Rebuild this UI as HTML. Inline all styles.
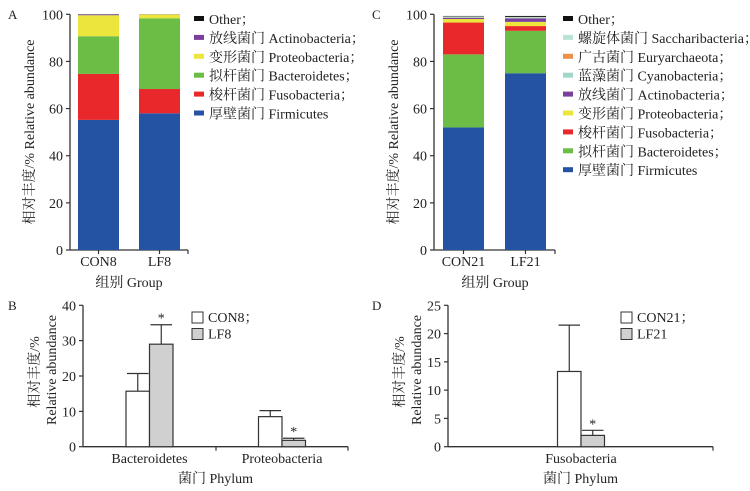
<!DOCTYPE html>
<html><head><meta charset="utf-8"><style>
body{margin:0;background:#fff;}
svg{display:block;font-family:"Liberation Serif","Noto Serif CJK SC",serif;}
</style></head><body>
<svg id="fig" width="750" height="491" viewBox="0 0 750 491" xmlns="http://www.w3.org/2000/svg"></svg>
<script>
// Panel A data
const groupsA = ["CON8","LF8"];
const phylaA = ["厚壁菌门 Firmicutes","梭杆菌门 Fusobacteria；","拟杆菌门 Bacteroidetes；","变形菌门 Proteobacteria；","放线菌门 Actinobacteria；","Other；"];
const colorsA = ["#2453a3","#e8282a","#6bbd45","#ece53c","#7a3f9d","#111111"];
const valuesA_CON8 = [55.2,19.5,16.0,8.9,0.3,0.1];
const valuesA_LF8 = [58.0,10.3,30.0,1.6,0.05,0.05];
// Panel C data
const groupsC = ["CON21","LF21"];
const phylaC = ["厚壁菌门 Firmicutes","拟杆菌门 Bacteroidetes；","梭杆菌门 Fusobacteria；","变形菌门 Proteobacteria；","放线菌门 Actinobacteria；","蓝藻菌门 Cyanobacteria；","广古菌门 Euryarchaeota；","螺旋体菌门 Saccharibacteria；","Other；"];
const colorsC = ["#2453a3","#6bbd45","#e8282a","#ece53c","#7a3f9d","#9fd8c8","#f0904a","#b9e3d6","#111111"];
const valuesC_CON21 = [52.0,31.0,13.5,1.5,0.5,0.3,0.1,0.2,0.2];
const valuesC_LF21 = [75.0,18.0,2.0,1.8,1.5,0.3,0.1,0.2,0.4];
// Panel B data
const catsB = ["Bacteroidetes","Proteobacteria"];
const meanB_CON8 = [15.7,8.5];
const errB_CON8 = [5.0,1.7];
const meanB_LF8 = [29.0,1.8];
const errB_LF8 = [5.5,0.6];
const sigB_LF8 = [true,true];
const ticksB = [0,10,20,30,40];
// Panel D data
const catsD = ["Fusobacteria"];
const meanD_CON21 = [13.3];
const errD_CON21 = [8.2];
const meanD_LF21 = [2.0];
const errD_LF21 = [0.9];
const sigD_LF21 = [true];
const ticksD = [0,5,10,15,20,25];
const ticksStack = [0,20,40,60,80,100];

const svg = document.getElementById('fig');
const NS = "http://www.w3.org/2000/svg";
function mk(tag, attrs, parent, text){
  const e = document.createElementNS(NS, tag);
  for (const k in attrs) e.setAttribute(k, attrs[k]);
  if (text !== undefined) e.textContent = text;
  (parent||svg).appendChild(e);
  return e;
}
function grp(name){
  const g = mk('g', {});
  
  
  return g;
}
function txt(g, x, y, s, size, anchor, name, extra){
  const t = mk('text', Object.assign({x:x, y:y, 'font-size':size, 'text-anchor':anchor||'start', fill:'#222'}, extra||{}), g, s);
  
  
  return t;
}
function yAxis(g, x0, yBase, yTop, ticks, maxV, xEnd, name){
  const sc = v => yBase - v/maxV*(yBase-yTop);
  const ax = mk('line',{x1:x0,y1:yTop,x2:x0,y2:yBase,stroke:'#333','stroke-width':1.3}, g);
  
  
  const xa = mk('line',{x1:x0,y1:yBase,x2:xEnd,y2:yBase,stroke:'#333','stroke-width':1.3}, g);
  
  
  mk('line',{x1:xEnd,y1:yBase,x2:xEnd,y2:yBase+4,stroke:'#333','stroke-width':1.2}, g);
  ticks.forEach(t=>{
    mk('line',{x1:x0-4,y1:sc(t),x2:x0,y2:sc(t),stroke:'#333','stroke-width':1.2}, g);
    txt(g, x0-7, sc(t)+5, String(t), 14, 'end', name+'-y-tick-label');
  });
  return sc;
}

function stacked(name, letter, lx, x0, xEnd, barX, barW, groups, series, colors, phyla, legX, ttlCX){
  const g = grp(name);
  txt(g, lx, 19, letter, 13, 'start', name+'-panel-letter');
  const sc = yAxis(g, x0, 250, 14.3, ticksStack, 100, xEnd, name);
  groups.forEach((gn, gi)=>{
    let cum = 0;
    series[gi].forEach((v, si)=>{
      const r = mk('rect',{x:barX[gi], y:sc(cum+v), width:barW, height:sc(cum)-sc(cum+v), fill:colors[si]}, g);
      
      
      cum += v;
    });
    mk('line',{x1:barX[gi]+barW/2,y1:250,x2:barX[gi]+barW/2,y2:254,stroke:'#333','stroke-width':1.2}, g);
    txt(g, barX[gi]+barW/2, 266, gn, 14, 'middle', 'x-tick-label');
  });
  txt(g, ttlCX, 287, '组别 Group', 14, 'middle', name+'-x-axis-title');
  txt(g, 0, 0, '相对丰度/%  Relative abundance', 14, 'middle', name+'-y-axis-title', {transform:'translate('+(x0-36)+',132) rotate(-90)'});
  for (let i=0;i<phyla.length;i++){
    const idx = phyla.length-1-i;
    const y = 19 + i*18.9;
    const le = mk('g',{}, g);
    
    
    mk('rect',{x:legX, y:y-3, width:10, height:5, fill:colors[idx]}, le);
    txt(le, legX+15, y+5, phyla[idx], 14, 'start', 'legend-label');
  }
}
stacked('panel-a','A',8,70,188,[78,139],41,groupsA,[valuesA_CON8,valuesA_LF8],colorsA,phylaA,194,129);
stacked('panel-c','C',372,434,555,[443,505],41,groupsC,[valuesC_CON21,valuesC_LF21],colorsC,phylaC,563,495);

function barPanel(name, letter, lx, x0, xEnd, ticks, maxV, cats, catCX, bw, m1, e1, m2, e2, sig, leg, legX, midTick){
  const g = grp(name);
  txt(g, lx, 310, letter, 13, 'start', name+'-panel-letter');
  const sc = yAxis(g, x0, 446.7, 305.3, ticks, maxV, xEnd, name);
  if (midTick) mk('line',{x1:midTick,y1:446.7,x2:midTick,y2:450.7,stroke:'#333','stroke-width':1.2}, g);
  cats.forEach((c, i)=>{
    const cx = catCX[i];
    [[m1,e1,'#fff',-bw,leg[0]],[m2,e2,'#d0d0d0',0,leg[1]]].forEach(([m,e,fill,off,gn])=>{
      const x = cx+off, xc = x+bw/2;
      const r = mk('rect',{x:x, y:sc(m[i]), width:bw, height:446.7-sc(m[i]), fill:fill, stroke:'#333','stroke-width':1.2}, g);
      
      
      mk('line',{x1:xc,y1:sc(m[i]),x2:xc,y2:sc(m[i]+e[i]),stroke:'#333','stroke-width':1.2}, g);
      mk('line',{x1:xc-bw/2+1,y1:sc(m[i]+e[i]),x2:xc+bw/2-1,y2:sc(m[i]+e[i]),stroke:'#333','stroke-width':1.2}, g);
      if (off===0 && sig[i]) txt(g, xc, sc(m[i]+e[i])-2, '*', 14, 'middle', 'significance-marker');
    });
    txt(g, cx, 463, c, 14, 'middle', 'x-tick-label');
  });
  txt(g, (x0+xEnd)/2, 483, '菌门 Phylum', 14, 'middle', name+'-x-axis-title');
  txt(g, 0, 0, '相对丰度/%', 14, 'middle', name+'-y-axis-title-cn', {transform:'translate('+(x0-44)+',372) rotate(-90)'});
  txt(g, 0, 0, 'Relative abundance', 14, 'middle', name+'-y-axis-title-en', {transform:'translate('+(x0-27)+',370) rotate(-90)'});
  leg.forEach((l, i)=>{
    const le = mk('g',{}, g);
    
    
    mk('rect',{x:legX, y:312+i*16.5, width:11, height:11, fill:i?'#d0d0d0':'#fff', stroke:'#333','stroke-width':1}, le);
    txt(le, legX+16, 322+i*16.5, l+(i===0?'；':''), 14, 'start', 'legend-label');
  });
}
barPanel('panel-b','B',8,83,348,ticksB,40,catsB,[149.5,282],23.5,meanB_CON8,errB_CON8,meanB_LF8,errB_LF8,sigB_LF8,['CON8','LF8'],192,216);
barPanel('panel-d','D',372,448,713,ticksD,25,catsD,[581],23.5,meanD_CON21,errD_CON21,meanD_LF21,errD_LF21,sigD_LF21,['CON21','LF21'],621,null);
</script>
</body></html>
